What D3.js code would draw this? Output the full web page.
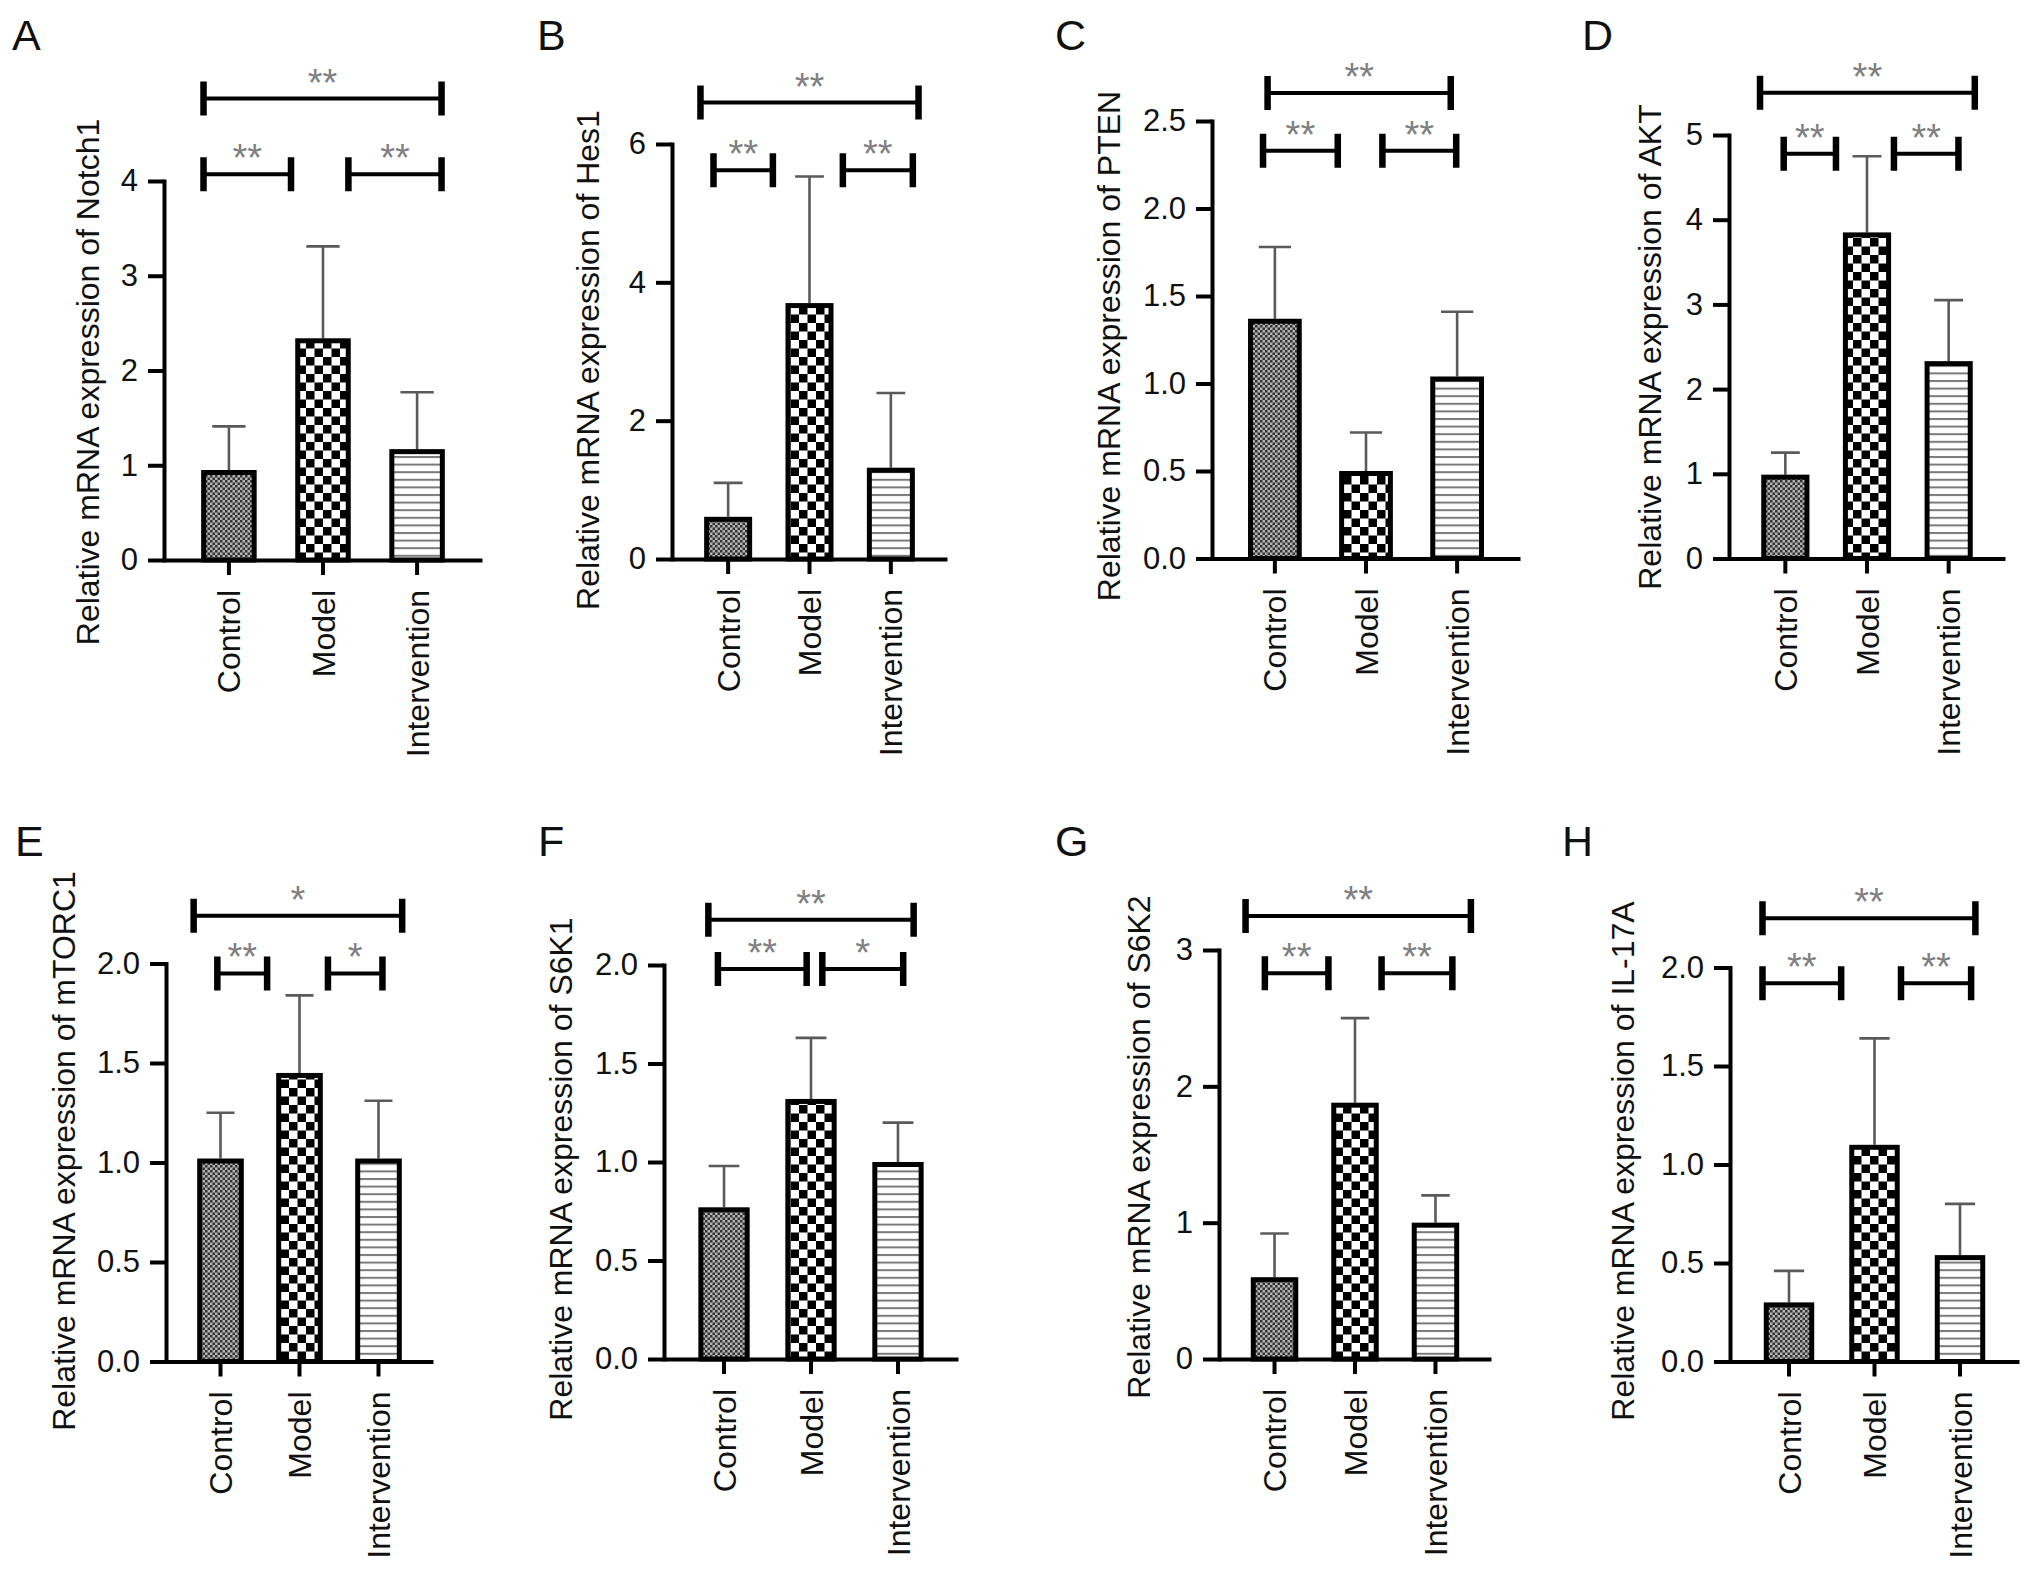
<!DOCTYPE html>
<html>
<head>
<meta charset="utf-8">
<script src="https://cdn.jsdelivr.net/npm/d3@7"></script>
<style>
  body { margin: 0; background: #fff; }
  svg { display: block; background: #fff; font-family: "Liberation Sans", Arial, sans-serif; }
</style>
</head>
<body>
<svg width="2032" height="1575"></svg>
<script>
const groups = ["Control", "Model", "Intervention"];
const panelLetters = ["A", "B", "C", "D", "E", "F", "G", "H"];
const genes = ["Notch1", "Hes1", "PTEN", "AKT", "mTORC1", "S6K1", "S6K2", "IL-17A"];

// mean of each group, one row per panel
const meanValues = [
    [0.95, 2.34, 1.17],
    [0.61, 3.70, 1.32],
    [1.37, 0.50, 1.04],
    [0.99, 3.85, 2.33],
    [1.02, 1.45, 1.02],
    [0.77, 1.32, 1.00],
    [0.60, 1.88, 1.00],
    [0.30, 1.10, 0.54]
];
// upper error (SD)
const errorValues = [
    [0.46, 0.97, 0.60],
    [0.49, 1.83, 1.08],
    [0.41, 0.22, 0.37],
    [0.26, 0.90, 0.72],
    [0.23, 0.39, 0.29],
    [0.21, 0.31, 0.20],
    [0.32, 0.62, 0.20],
    [0.16, 0.54, 0.26]
];
const yMaxValues = [4, 6, 2.5, 5, 2, 2, 3, 2];
const yTickValues = [
    [0, 1, 2, 3, 4],
    [0, 2, 4, 6],
    [0, 0.5, 1, 1.5, 2, 2.5],
    [0, 1, 2, 3, 4, 5],
    [0, 0.5, 1, 1.5, 2],
    [0, 0.5, 1, 1.5, 2],
    [0, 1, 2, 3],
    [0, 0.5, 1, 1.5, 2]
];
const yTickDecimals = [0, 0, 1, 0, 1, 1, 0, 1];
// [Control vs Intervention, Control vs Model, Model vs Intervention]
const sigLabels = [
    ["**", "**", "**"],
    ["**", "**", "**"],
    ["**", "**", "**"],
    ["**", "**", "**"],
    ["*", "**", "*"],
    ["**", "**", "*"],
    ["**", "**", "**"],
    ["**", "**", "**"]
];

// ---- layout (pixels / group-index units), not data ----
const panelBox = [
    {axisX: 164, xEnd: 482, yTop: 181, yZero: 560, titleX: 87, titleY: 382, letterX: 12, letterY: 50},
    {axisX: 672, xEnd: 947, yTop: 144, yZero: 559, titleX: 587, titleY: 360, letterX: 537, letterY: 50},
    {axisX: 1212, xEnd: 1520, yTop: 121, yZero: 558.5, titleX: 1108, titleY: 346, letterX: 1055, letterY: 50},
    {axisX: 1729, xEnd: 2005, yTop: 135, yZero: 558.5, titleX: 1649, titleY: 347, letterX: 1582, letterY: 50},
    {axisX: 166, xEnd: 433, yTop: 963.5, yZero: 1361.5, titleX: 63, titleY: 1151, letterX: 15, letterY: 856},
    {axisX: 664, xEnd: 958, yTop: 965, yZero: 1359, titleX: 560, titleY: 1169, letterX: 538, letterY: 856},
    {axisX: 1219, xEnd: 1491, yTop: 950, yZero: 1359, titleX: 1138, titleY: 1147, letterX: 1055, letterY: 856},
    {axisX: 1730, xEnd: 2019, yTop: 967.5, yZero: 1361.5, titleX: 1622, titleY: 1161, letterX: 1562, letterY: 856}
];
// bracket ends in group-index units: [top, lower left, lower right]
const bracketSpans = [
    [[-0.27, 2.26], [-0.27, 0.66], [1.27, 2.26]],
    [[-0.34, 2.34], [-0.18, 0.55], [1.41, 2.27]],
    [[-0.08, 1.93], [-0.13, 0.69], [1.18, 1.99]],
    [[-0.31, 2.32], [-0.02, 0.62], [1.33, 2.12]],
    [[-0.34, 2.30], [-0.04, 0.59], [1.36, 2.05]],
    [[-0.18, 2.18], [-0.07, 0.95], [1.13, 2.06]],
    [[-0.36, 2.44], [-0.12, 0.67], [1.33, 2.21]],
    [[-0.31, 2.18], [-0.31, 0.61], [1.31, 2.13]]
];
// bracket heights in y units: [top, lower]
const bracketLevels = [
    [4.87, 4.07], [6.60, 5.62], [2.66, 2.33], [5.50, 4.78],
    [2.24, 1.95], [2.23, 1.98], [3.25, 2.83], [2.25, 1.92]
];
const fills = ["url(#pat-control)", "url(#pat-model)", "url(#pat-interv)"];

function createPatterns(svg) {
    const defs = svg.append("defs");

    let p = defs.append("pattern").attr("id", "pat-control")
        .attr("patternUnits", "userSpaceOnUse").attr("width", 5).attr("height", 5);
    p.append("rect").attr("width", 5).attr("height", 5).attr("fill", "#b4b4b4");
    p.append("rect").attr("width", 2.5).attr("height", 2.5).attr("fill", "#333");
    p.append("rect").attr("x", 2.5).attr("y", 2.5).attr("width", 2.5).attr("height", 2.5).attr("fill", "#333");

    p = defs.append("pattern").attr("id", "pat-model")
        .attr("patternUnits", "userSpaceOnUse").attr("width", 17).attr("height", 17);
    p.append("rect").attr("width", 17).attr("height", 17).attr("fill", "#fff");
    p.append("rect").attr("width", 8.5).attr("height", 8.5).attr("fill", "#000");
    p.append("rect").attr("x", 8.5).attr("y", 8.5).attr("width", 8.5).attr("height", 8.5).attr("fill", "#000");

    p = defs.append("pattern").attr("id", "pat-interv")
        .attr("patternUnits", "userSpaceOnUse").attr("width", 8).attr("height", 7.6);
    p.append("rect").attr("width", 8).attr("height", 7.6).attr("fill", "#fff");
    p.append("rect").attr("width", 8).attr("height", 2).attr("fill", "#7a7a7a");
}

function drawPanel(svg, i) {
    const box = panelBox[i];
    const g = svg.append("g").attr("class", "panel-" + panelLetters[i]);

    const scX = d3.scaleBand()
        .domain(groups)
        .range([box.axisX, box.xEnd])
        .paddingInner(0.41)
        .paddingOuter(0.395);
    const scY = d3.scaleLinear()
        .domain([0, yMaxValues[i]])
        .range([box.yZero, box.yTop]);
    const scIdx = d3.scaleLinear()
        .domain([0, 2])
        .range([scX(groups[0]) + scX.bandwidth() / 2, scX(groups[2]) + scX.bandwidth() / 2]);

    const rows = groups.map((name, k) => ({name: name, mean: meanValues[i][k], err: errorValues[i][k], fill: fills[k]}));
    const cx = d => scX(d.name) + scX.bandwidth() / 2;
    const capW = scX.bandwidth() * 0.3;

    // error bars
    g.selectAll(".err")
        .data(rows)
        .enter()
        .append("path")
        .attr("d", d => `M${cx(d)},${scY(d.mean)}V${scY(d.mean + d.err)}M${cx(d) - capW},${scY(d.mean + d.err)}H${cx(d) + capW}`)
        .attr("fill", "none")
        .attr("stroke", "#5a5a5a")
        .attr("stroke-width", 2.6);

    // bars
    g.selectAll(".bar")
        .data(rows)
        .enter()
        .append("rect")
        .attr("x", d => scX(d.name) + 2.5)
        .attr("y", d => scY(d.mean) + 2.5)
        .attr("width", scX.bandwidth() - 5)
        .attr("height", d => scY(0) - scY(d.mean) - 2.5)
        .attr("fill", d => d.fill)
        .attr("stroke", "#000")
        .attr("stroke-width", 5);

    // y axis
    const fmt = d3.format("." + yTickDecimals[i] + "f");
    const axY = g.append("g")
        .attr("transform", `translate(${box.axisX},0)`)
        .call(d3.axisLeft(scY).tickValues(yTickValues[i]).tickFormat(fmt).tickSize(16).tickSizeOuter(0).tickPadding(10));
    axY.selectAll("path, line").attr("stroke", "#000").attr("stroke-width", 4);
    axY.select(".domain").attr("stroke-linecap", "square");
    axY.selectAll("text").attr("font-size", 31).attr("fill", "#111").attr("font-family", null);
    axY.attr("font-family", null).attr("font-size", null);

    // x axis
    const axX = g.append("g")
        .attr("transform", `translate(0,${box.yZero})`)
        .call(d3.axisBottom(scX).tickSize(15).tickSizeOuter(0));
    axX.selectAll("path, line").attr("stroke", "#000").attr("stroke-width", 4);
    axX.attr("font-family", null).attr("font-size", null);
    axX.selectAll("text")
        .attr("font-size", 32)
        .attr("fill", "#111")
        .attr("transform", "rotate(-90)")
        .attr("x", -30)
        .attr("y", 0)
        .attr("dy", "0.36em")
        .style("text-anchor", "end");

    // y title
    g.append("text")
        .attr("transform", `translate(${box.titleX},${box.titleY}) rotate(-90)`)
        .attr("dy", "0.36em")
        .attr("text-anchor", "middle")
        .attr("font-size", 32)
        .attr("fill", "#111")
        .text("Relative mRNA expression of " + genes[i]);

    // panel letter
    g.append("text")
        .attr("x", box.letterX)
        .attr("y", box.letterY)
        .attr("font-size", 43)
        .attr("fill", "#111")
        .text(panelLetters[i]);

    // significance brackets
    const brackets = bracketSpans[i].map((span, k) => ({
        x0: scIdx(span[0]),
        x1: scIdx(span[1]),
        y: scY(k === 0 ? bracketLevels[i][0] : bracketLevels[i][1]),
        label: sigLabels[i][k]
    }));
    const bg = g.selectAll(".bracket")
        .data(brackets)
        .enter()
        .append("g");
    bg.append("path")
        .attr("d", d => `M${d.x0},${d.y}H${d.x1}`)
        .attr("stroke", "#000")
        .attr("stroke-width", 4)
        .attr("fill", "none");
    bg.append("path")
        .attr("d", d => `M${d.x0},${d.y - 17}V${d.y + 17}M${d.x1},${d.y - 17}V${d.y + 17}`)
        .attr("stroke", "#000")
        .attr("stroke-width", 6.5)
        .attr("fill", "none");
    bg.append("text")
        .attr("x", d => (d.x0 + d.x1) / 2)
        .attr("y", d => d.y - 3)
        .attr("text-anchor", "middle")
        .attr("font-size", 38)
        .attr("fill", "#808080")
        .text(d => d.label);
}

const svg = d3.select("svg");
createPatterns(svg);
for (let i = 0; i < panelLetters.length; i++) {
    drawPanel(svg, i);
}
</script>
</body>
</html>
